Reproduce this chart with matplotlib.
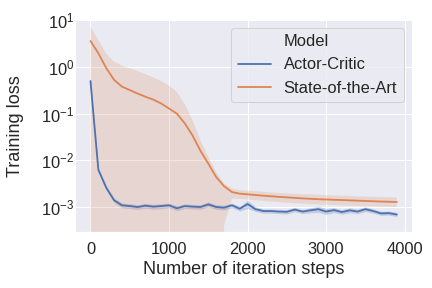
import numpy as np
import seaborn as sns
import matplotlib
matplotlib.use("Agg")
import matplotlib.pyplot as plt
from matplotlib.lines import Line2D

# iteration steps (shared by both models)
steps = [0, 100, 200, 300, 400, 500, 600, 700, 800, 900,
         1000, 1100, 1200, 1300, 1400, 1500, 1600, 1700, 1800, 1900,
         2000, 2100, 2200, 2300, 2400, 2500, 2600, 2700, 2800, 2900,
         3000, 3100, 3200, 3300, 3400, 3500, 3600, 3700, 3800, 3900]

# Actor-Critic: mean loss and CI band
ac_mean = [0.5, 0.0063, 0.0026, 0.0014, 0.00109, 0.00105, 0.00100, 0.00107, 0.00102, 0.00105,
           0.00109, 0.00094, 0.00105, 0.00102, 0.00100, 0.00114, 0.00100, 0.00097, 0.00109, 0.00092,
           0.00116, 0.00090, 0.00082, 0.00082, 0.00080, 0.00079, 0.00088, 0.00080, 0.00085, 0.00090,
           0.00080, 0.00086, 0.00078, 0.00085, 0.00080, 0.00090, 0.00082, 0.00073, 0.00074, 0.00069]
ac_low = [0.45, 0.0057, 0.0023, 0.00124, 0.00096, 0.00093, 0.00089, 0.00094, 0.00090, 0.00092,
          0.00097, 0.00083, 0.00093, 0.00091, 0.00089, 0.00101, 0.00089, 0.00086, 0.00097, 0.00082,
          0.00093, 0.00080, 0.00074, 0.00074, 0.00072, 0.00071, 0.00079, 0.00072, 0.00075, 0.00077,
          0.00069, 0.00076, 0.00070, 0.00075, 0.00072, 0.00080, 0.00074, 0.00066, 0.00067, 0.00062]
ac_high = [0.55, 0.0069, 0.0029, 0.00156, 0.00122, 0.00118, 0.00112, 0.00120, 0.00114, 0.00118,
           0.00121, 0.00106, 0.00117, 0.00114, 0.00112, 0.00128, 0.00112, 0.00109, 0.00122, 0.00103,
           0.00140, 0.00101, 0.00091, 0.00091, 0.00089, 0.00088, 0.00098, 0.00089, 0.00096, 0.00104,
           0.00093, 0.00097, 0.00088, 0.00096, 0.00090, 0.00101, 0.00091, 0.00081, 0.00082, 0.00077]

# State-of-the-Art: mean loss and CI band (lower bound below zero early on)
sota_mean = [3.6, 1.97, 0.95, 0.53, 0.38, 0.32, 0.27, 0.23, 0.20, 0.165,
             0.129, 0.100, 0.062, 0.034, 0.016, 0.0085, 0.0044, 0.0028, 0.0021, 0.00193,
             0.00187, 0.00181, 0.00175, 0.00170, 0.00165, 0.00161, 0.00157, 0.00153, 0.00150, 0.00147,
             0.00145, 0.00143, 0.00141, 0.00139, 0.00137, 0.00135, 0.00133, 0.00131, 0.00130, 0.00128]
sota_low = [0, 0, 0, 0, 0, 0, 0, 0, 0, 0,
            0, 0, 0, 0, 0, 0, 0, 0.0004, 0.0015, 0.00150,
            0.00145, 0.00140, 0.00135, 0.00131, 0.00127, 0.00124, 0.00121, 0.00118, 0.00115, 0.00113,
            0.00111, 0.00110, 0.00108, 0.00107, 0.00105, 0.00104, 0.00103, 0.00102, 0.00101, 0.00100]
sota_high = [7.3, 3.8, 1.96, 1.3, 1.07, 0.94, 0.82, 0.70, 0.60, 0.50,
             0.40, 0.29, 0.16, 0.072, 0.027, 0.012, 0.0056, 0.0032, 0.0025, 0.0023,
             0.00225, 0.00218, 0.00211, 0.00205, 0.00200, 0.00196, 0.00192, 0.00189, 0.00187, 0.00183,
             0.00180, 0.00177, 0.00175, 0.00172, 0.00170, 0.00168, 0.00166, 0.00164, 0.00162, 0.00160]

sns.set_theme(style="darkgrid", font_scale=1.5)
plt.rcParams["font.family"] = ["Liberation Sans", "DejaVu Sans"]

pal = sns.color_palette("deep")
blue, orange = pal[0], pal[1]

fig, ax = plt.subplots(figsize=(6, 4), dpi=72)
fig.subplots_adjust(left=0.174, right=0.954, top=0.933, bottom=0.194)

ax.set_yscale("log")
ax.fill_between(steps, ac_low, ac_high, color=blue, alpha=0.25, linewidth=0)
ax.fill_between(steps, sota_low, sota_high, color=orange, alpha=0.2, linewidth=0)
ax.plot(steps, ac_mean, color=blue, lw=1.8)
ax.plot(steps, sota_mean, color=orange, lw=1.8)

ax.set_ylim(2.9e-4, 10.5)
ax.set_xlim(-195, 4095)
ax.set_xticks([0, 1000, 2000, 3000, 4000])
ax.tick_params(axis="y", pad=-5)
ax.set_xlabel("Number of iteration steps")
ax.set_ylabel("Training loss")
ax.yaxis.set_label_coords(-0.153, 0.5)

# old-style seaborn legend: hue name shown as a first entry with no handle
handles = [Line2D([], [], color="none"),
           Line2D([], [], color=blue, lw=1.8),
           Line2D([], [], color=orange, lw=1.8)]
ax.legend(handles, ["Model", "Actor-Critic", "State-of-the-Art"], loc="upper right")

fig.savefig("out.png", dpi=72)
